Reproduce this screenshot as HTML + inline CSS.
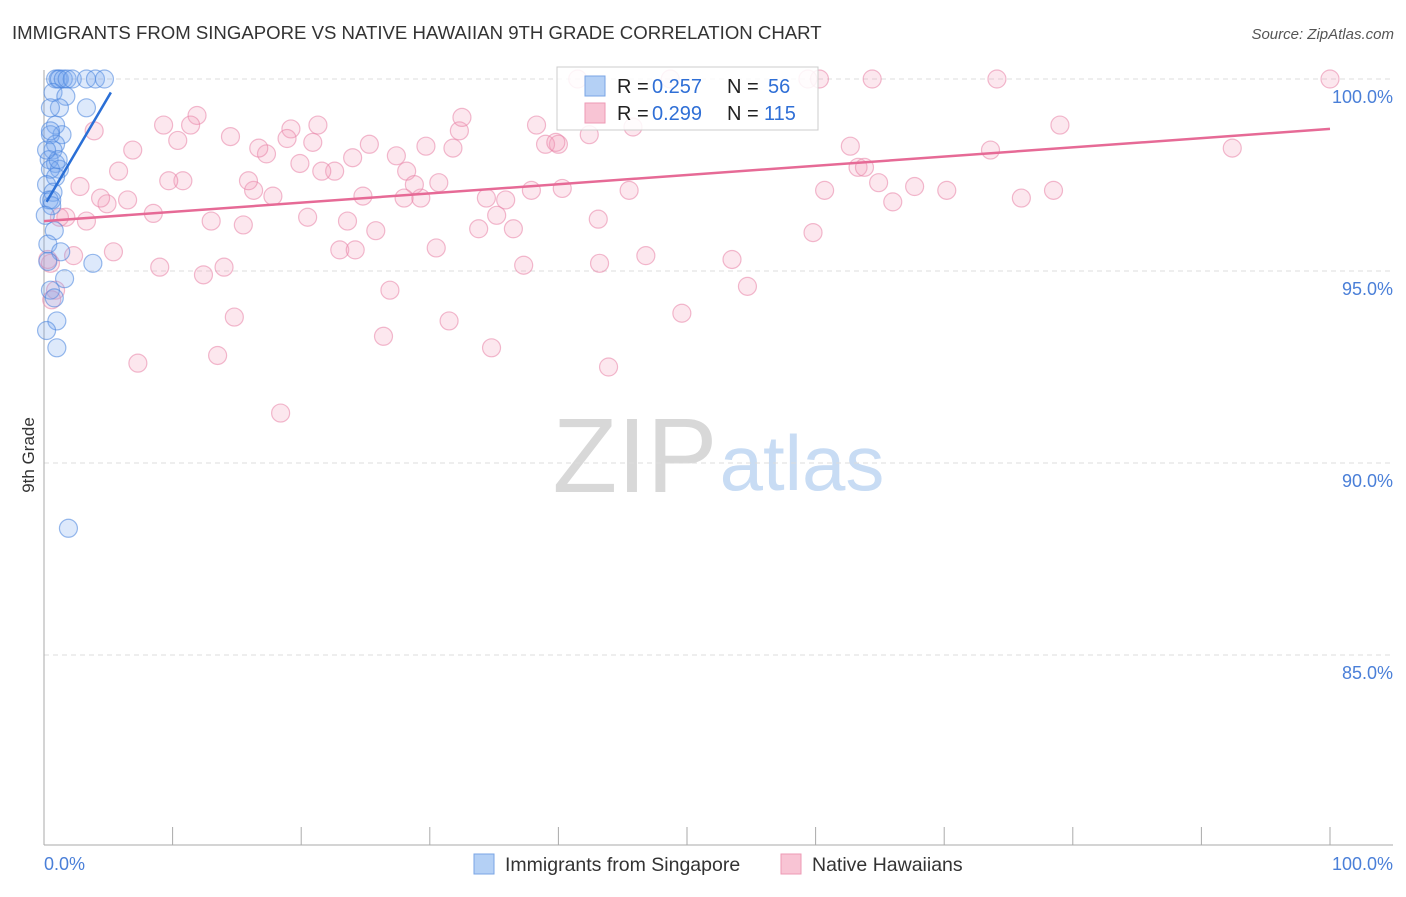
<!DOCTYPE html>
<html><head><meta charset="utf-8"><style>
body{margin:0;background:#fff;font-family:"Liberation Sans",sans-serif}
svg text{font-family:"Liberation Sans",sans-serif}
</style></head><body>
<svg id="c" width="1406" height="892" xmlns="http://www.w3.org/2000/svg">
<text x="12" y="39" font-size="18.6" fill="#333">IMMIGRANTS FROM SINGAPORE VS NATIVE HAWAIIAN 9TH GRADE CORRELATION CHART</text>
<text x="1394" y="39" font-size="15" fill="#555" text-anchor="end" font-style="italic">Source: ZipAtlas.com</text>
<g>
<text x="635" y="492" font-size="106" fill="#d8d8d8" font-family="Liberation Serif, serif" text-anchor="middle">ZIP</text>
<text x="802" y="490" font-size="78" fill="#c8dcf4" text-anchor="middle">atlas</text>
</g>
<text x="34" y="455" font-size="17" fill="#333" transform="rotate(-90 34 455)" text-anchor="middle">9th Grade</text>
<g id="grid"></g><g id="pts"></g><g id="lines"></g>
<g>
<rect x="557" y="67" width="261" height="63" fill="#fff" fill-opacity="0.85" stroke="#ccc"/>
<rect x="585" y="76" width="20" height="20" fill="#b4d0f5" stroke="#7aa5e5"/>
<rect x="585" y="103" width="20" height="20" fill="#f8c4d4" stroke="#ee9ab5"/>
<text x="617" y="93" font-size="20" fill="#222">R =</text>
<text x="652" y="93" font-size="20" fill="#2f6fd6">0.257</text>
<text x="727" y="93" font-size="20" fill="#222">N =</text>
<text x="768" y="93" font-size="20" fill="#2f6fd6">56</text>
<text x="617" y="120" font-size="20" fill="#222">R =</text>
<text x="652" y="120" font-size="20" fill="#2f6fd6">0.299</text>
<text x="727" y="120" font-size="20" fill="#222">N =</text>
<text x="764" y="120" font-size="20" fill="#2f6fd6">115</text>
</g>
<g>
<rect x="474" y="854" width="20" height="20" fill="#b4d0f5" stroke="#7aa5e5"/>
<text x="505" y="871" font-size="19.5" fill="#333">Immigrants from Singapore</text>
<rect x="781" y="854" width="20" height="20" fill="#f8c4d4" stroke="#ee9ab5"/>
<text x="812" y="871" font-size="19.5" fill="#333">Native Hawaiians</text>
</g>
</svg>
<script>
const yTicks=[100,95,90,85];
const yTickLabels=["100.0%","95.0%","90.0%","85.0%"];
const xTicks=[0,10,20,30,40,50,60,70,80,90,100];
const blueX=[0.9,1.1,1.2,1.5,1.8,2.2,3.3,4.0,4.7,0.7,1.7,1.2,3.3,0.5,0.9,1.4,0.5,0.9,0.7,0.4,0.9,1.2,0.5,0.9,0.2,0.7,0.4,0.6,0.8,0.3,1.3,3.8,1.6,0.3,0.5,0.8,1.0,0.2,1.0,1.9,0.6,0.1,1.1,0.2,0.5];
const blueY=[100,100,100,100,100,100,100,100,100,99.65,99.55,99.25,99.25,99.25,98.8,98.55,98.55,98.3,98.15,97.9,97.8,97.65,97.65,97.45,97.25,97.05,96.85,96.7,96.05,95.7,95.5,95.2,94.8,95.25,94.5,94.3,93.7,93.45,93.0,88.3,96.85,96.45,97.9,98.15,98.65];
const pinkX=[100,74.1,64.4,60.3,59.4,48.7,41.5,79.0,92.4,73.6,62.7,63.3,63.8,64.9,67.7,70.2,78.5,76.0,66.0,60.7,59.8,53.5,54.7,49.6,46.8,45.5,43.1,43.2,43.9,45.8,42.4,40.0,39.0,39.8,38.3,40.3,37.9,36.5,35.9,35.2,34.4,33.8,37.3,34.8,31.5,30.5,32.3,32.5,31.8,30.7,29.7,29.3,28.2,27.4,28.8,28.0,25.8,25.3,24.8,24.0,23.6,23.0,24.2,26.9,26.4,22.6,21.6,21.3,20.9,19.9,20.5,19.2,18.9,18.4,17.8,17.3,16.7,16.3,15.9,15.5,14.5,14.0,13.5,14.8,13.0,12.4,11.9,11.4,10.8,10.4,9.7,9.3,9.0,8.5,7.3,6.9,6.5,5.8,5.4,4.9,4.4,3.9,3.3,2.8,2.3,1.7,1.2,0.9,0.6,0.5,0.3];
const pinkY=[100,100,100,100,100,100,100,98.8,98.2,98.15,98.25,97.7,97.7,97.3,97.2,97.1,97.1,96.9,96.8,97.1,96.0,95.3,94.6,93.9,95.4,97.1,96.35,95.2,92.5,98.75,98.55,98.3,98.3,98.35,98.8,97.15,97.1,96.1,96.85,96.45,96.9,96.1,95.15,93.0,93.7,95.6,98.65,99.0,98.2,97.3,98.25,96.9,97.6,98.0,97.25,96.9,96.05,98.3,96.95,97.95,96.3,95.55,95.55,94.5,93.3,97.6,97.6,98.8,98.35,97.8,96.4,98.7,98.45,91.3,96.95,98.05,98.2,97.1,97.35,96.2,98.5,95.1,92.8,93.8,96.3,94.9,99.05,98.8,97.35,98.4,97.35,98.8,95.1,96.5,92.6,98.15,96.85,97.6,95.5,96.75,96.9,98.65,96.3,97.2,95.4,96.4,96.4,94.5,94.25,95.2,95.3];
const blueLineX=[0.2,5.2], blueLineY=[96.8,99.65];
const pinkLineX=[0,100], pinkLineY=[96.3,98.7];
const NS="http://www.w3.org/2000/svg";
const sx=v=>44+v*12.86, sy=v=>79+(100-v)*38.4;
function mk(t,a,p){const e=document.createElementNS(NS,t);for(const k in a)e.setAttribute(k,a[k]);p.appendChild(e);return e;}
const grid=document.getElementById('grid');
yTicks.forEach((t,i)=>{
 const l=mk('line',{x1:44,x2:1393,y1:sy(t),y2:sy(t),stroke:'#ddd','stroke-dasharray':'5,4'},grid);
 
 
 const tx=mk('text',{x:1393,y:sy(t)+24,'font-size':18,fill:'#4a7fd8','text-anchor':'end'},grid);
 tx.textContent=yTickLabels[i];
 
 
});
const ax=mk('line',{x1:44,x2:44,y1:70,y2:845,stroke:'#aaa'},grid);


const bx=mk('line',{x1:44,x2:1393,y1:845,y2:845,stroke:'#aaa'},grid);


xTicks.forEach(t=>{
 const l=mk('line',{x1:sx(t),x2:sx(t),y1:827,y2:845,stroke:'#aaa'},grid);
 
 
});
[[0,'0.0%','start',44],[100,'100.0%','end',1393]].forEach(a=>{
 const tx=mk('text',{x:a[3],y:870,'font-size':18,fill:'#4a7fd8','text-anchor':a[2]},grid);
 tx.textContent=a[1];
 
 
});
const pts=document.getElementById('pts');
pinkX.forEach((x,i)=>{
 const c=mk('circle',{cx:sx(x),cy:sy(pinkY[i]),r:9,fill:'rgba(242,160,188,0.25)',stroke:'rgba(232,130,165,0.55)','stroke-width':1.2},pts);
 
 
});
blueX.forEach((x,i)=>{
 const c=mk('circle',{cx:sx(x),cy:sy(blueY[i]),r:9,fill:'rgba(120,168,238,0.25)',stroke:'rgba(70,130,220,0.55)','stroke-width':1.2},pts);
 
 
});
const lines=document.getElementById('lines');
const pl=mk('line',{x1:sx(pinkLineX[0]),y1:sy(pinkLineY[0]),x2:sx(pinkLineX[1]),y2:sy(pinkLineY[1]),stroke:'#e66a96','stroke-width':2.5},lines);


const bl=mk('line',{x1:sx(blueLineX[0]),y1:sy(blueLineY[0]),x2:sx(blueLineX[1]),y2:sy(blueLineY[1]),stroke:'#2a6fd6','stroke-width':2.5},lines);


</script>
</body></html>
